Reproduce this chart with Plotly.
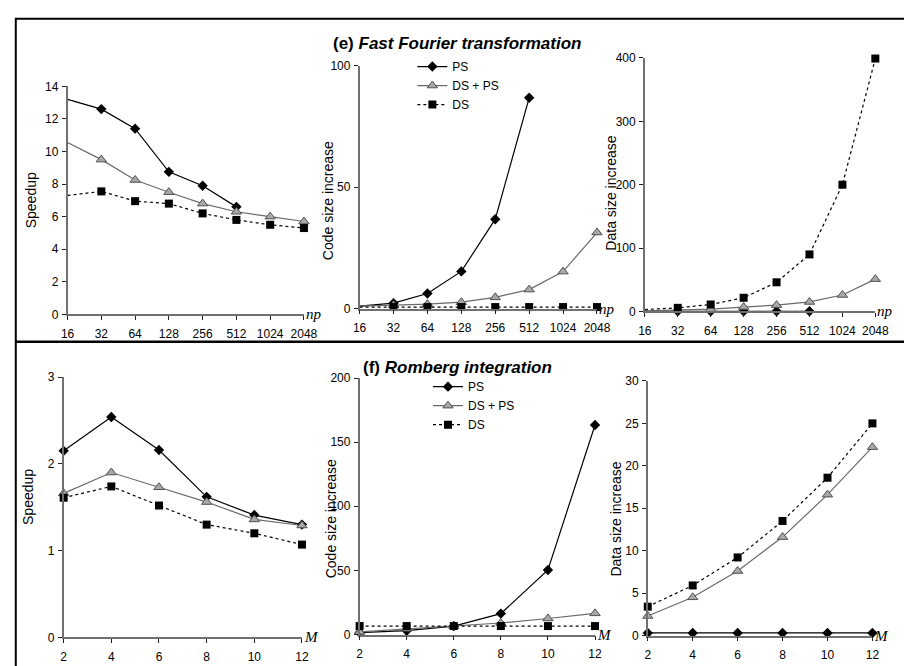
import math
import plotly.graph_objects as go

# ---------------- data ----------------
np_vals = [16, 32, 64, 128, 256, 512, 1024, 2048]
np_labels = ["16", "32", "64", "128", "256", "512", "1024", "2048"]
m_vals = [2, 4, 6, 8, 10, 12]
m_labels = ["2", "4", "6", "8", "10", "12"]

fft_speed_ps = [13.2, 12.6, 11.4, 8.75, 7.9, 6.6]
fft_speed_dsps = [10.55, 9.5, 8.25, 7.5, 6.8, 6.3, 6.0, 5.7]
fft_speed_ds = [7.3, 7.55, 6.95, 6.8, 6.2, 5.8, 5.5, 5.3]

fft_code_ps = [1.0, 2.2, 6.2, 15.3, 36.8, 86.8]
fft_code_dsps = [1.0, 1.4, 1.8, 2.6, 4.6, 7.8, 15.2, 31.3]
fft_code_ds = [0.6, 0.6, 0.6, 0.6, 0.6, 0.6, 0.6, 0.6]

fft_data_ps = [0.3, 0.3, 0.3, 0.3, 0.3, 0.3]
fft_data_dsps = [1.0, 2.0, 3.6, 7.0, 10.0, 15.0, 26.0, 51.0]
fft_data_ds = [3.0, 5.7, 11.0, 21.6, 46.0, 90.0, 200.0, 399.0]

rom_speed_ps = [2.15, 2.54, 2.16, 1.62, 1.41, 1.30]
rom_speed_dsps = [1.66, 1.90, 1.73, 1.56, 1.36, 1.29]
rom_speed_ds = [1.61, 1.74, 1.52, 1.30, 1.20, 1.07]

rom_code_ps = [1.5, 3.0, 6.6, 16.3, 50.3, 163.4]
rom_code_dsps = [2.0, 4.5, 6.6, 9.0, 12.5, 16.5]
rom_code_ds = [6.6, 6.6, 6.6, 6.6, 6.6, 6.6]

rom_data_ps = [0.3, 0.3, 0.3, 0.3, 0.3, 0.3]
rom_data_dsps = [2.3, 4.5, 7.6, 11.6, 16.6, 22.2]
rom_data_ds = [3.4, 5.9, 9.2, 13.5, 18.6, 25.0]

series_names = ["PS", "DS + PS", "DS"]

W, H = 904, 666
FONT = "Liberation Sans, Arial, Helvetica, sans-serif"
SERIF = "Liberation Serif, Times New Roman, serif"


def px(x):
    return x / W


def py(y):
    return 1 - y / H


# panel layout (pixel geometry) ---------------------------------
panels = [
    dict(x=(62, 304), y=(81, 314), xs=np_vals, xl=np_labels, log=True, yr=(0, 14),
         yt=[0, 2, 4, 6, 8, 10, 12, 14], data=[fft_speed_ps, fft_speed_dsps, fft_speed_ds],
         unit="np", ytitle="Speedup", yt_pos=(24, 197), legend=None),
    dict(x=(361, 604), y=(60, 308), xs=np_vals, xl=np_labels, log=True, yr=(0, 100),
         yt=[0, 50, 100], data=[fft_code_ps, fft_code_dsps, fft_code_ds],
         unit="np", ytitle="Code size increase", yt_pos=(328, 198), legend="legend"),
    dict(x=(653, 889), y=(52, 311), xs=np_vals, xl=np_labels, log=True, yr=(0, 400),
         yt=[0, 100, 200, 300, 400], data=[fft_data_ps, fft_data_dsps, fft_data_ds],
         unit="np", ytitle="Data size increase", yt_pos=(618, 190), legend=None),
    dict(x=(58, 302), y=(378, 644), xs=m_vals, xl=m_labels, log=False, yr=(0, 3),
         yt=[0, 1, 2, 3], data=[rom_speed_ps, rom_speed_dsps, rom_speed_ds],
         unit="M", ytitle="Speedup", yt_pos=(22, 500), legend=None),
    dict(x=(361, 602), y=(379, 641), xs=m_vals, xl=m_labels, log=False, yr=(0, 200),
         yt=[0, 50, 100, 150, 200], data=[rom_code_ps, rom_code_dsps, rom_code_ds],
         unit="M", ytitle="Code size increase", yt_pos=(332, 523), legend="legend2"),
    dict(x=(656, 886), y=(382, 642), xs=m_vals, xl=m_labels, log=False, yr=(0, 30),
         yt=[0, 5, 10, 15, 20, 25, 30], data=[rom_data_ps, rom_data_dsps, rom_data_ds],
         unit="M", ytitle="Data size increase", yt_pos=(623, 523), legend=None),
]

styles = [
    dict(line=dict(color="#000000", width=1.2, dash="solid"),
         marker=dict(symbol="diamond", size=8, color="#000000", line=dict(width=0))),
    dict(line=dict(color="#6a6a6a", width=1.2, dash="solid"),
         marker=dict(symbol="triangle-up", size=9, color="#a8a8a8",
                     line=dict(width=1, color="#505050"))),
    dict(line=dict(color="#000000", width=1.2, dash="dot"),
         marker=dict(symbol="square", size=8, color="#000000", line=dict(width=0))),
]

fig = go.Figure()
layout = dict(
    width=W, height=H,
    margin=dict(l=0, r=0, t=0, b=0),
    paper_bgcolor="white", plot_bgcolor="white",
    font=dict(family=FONT, size=12, color="#000000"),
    showlegend=True,
)
annotations = []

AXIS_LINE = "#707070"
TICK_COL = "#202020"

for i, p in enumerate(panels):
    k = i + 1
    ko = i + 7
    xname = "xaxis" if k == 1 else f"xaxis{k}"
    yname = "yaxis" if k == 1 else f"yaxis{k}"
    xref = "x" if k == 1 else f"x{k}"
    yref = "y" if k == 1 else f"y{k}"
    xdom = [px(p["x"][0]), px(p["x"][1])]
    ydom = [py(p["y"][1]), py(p["y"][0])]
    if p["log"]:
        xr = [math.log10(p["xs"][0]), math.log10(p["xs"][-1])]
        xtype = "log"
    else:
        xr = [p["xs"][0], p["xs"][-1]]
        xtype = "linear"
    common_x = dict(domain=xdom, type=xtype, range=xr, tickmode="array",
                    tickvals=p["xs"], showgrid=False, zeroline=False)
    common_y = dict(domain=ydom, range=list(p["yr"]), tickmode="array",
                    tickvals=p["yt"], showgrid=False, zeroline=False)
    layout[xname] = dict(**common_x, anchor=yref, ticktext=p["xl"], ticks="outside",
                         ticklen=4, tickwidth=1, tickcolor=TICK_COL,
                         showline=True, linecolor=AXIS_LINE, linewidth=1.5,
                         ticklabelstandoff=3,
                         tickfont=dict(family=FONT, size=12, color="#000"))
    layout[yname] = dict(**common_y, anchor=xref, ticks="outside",
                         ticklen=4, tickwidth=1, tickcolor=TICK_COL,
                         showline=True, linecolor=AXIS_LINE, linewidth=1.5,
                         ticklabelstandoff=1,
                         tickfont=dict(family=FONT, size=12, color="#000"))
    # overlay axes giving the inward half of the crossing tick marks
    layout[f"xaxis{ko}"] = dict(**common_x, anchor=f"y{ko}", overlaying=xref,
                                ticks="inside", ticklen=4, tickwidth=1,
                                tickcolor=TICK_COL, showticklabels=False,
                                showline=False)
    layout[f"yaxis{ko}"] = dict(**common_y, anchor=f"x{ko}", overlaying=yref,
                                ticks="inside", ticklen=4, tickwidth=1,
                                tickcolor=TICK_COL, showticklabels=False,
                                showline=False)
    for s, (name, vals) in enumerate(zip(series_names, p["data"])):
        fig.add_trace(go.Scatter(
            x=p["xs"][:len(vals)], y=vals, name=name, mode="lines+markers",
            xaxis=xref, yaxis=yref, cliponaxis=False,
            line=styles[s]["line"], marker=styles[s]["marker"],
            showlegend=p["legend"] is not None,
            legend=p["legend"] if p["legend"] else "legend",
        ))
    # unit label at the end of the x axis
    annotations.append(dict(
        text=f"<i>{p['unit']}</i>", xref=f"{xref} domain", yref=f"{yref} domain",
        x=1, y=0, xanchor="left", yanchor="middle", xshift=0, showarrow=False,
        font=dict(family=SERIF, size=15, color="#000")))
    # y axis title
    annotations.append(dict(
        text=p["ytitle"], xref="paper", yref="paper",
        x=px(p["yt_pos"][0]), y=py(p["yt_pos"][1]), xanchor="center",
        yanchor="middle", textangle=-90, showarrow=False,
        font=dict(family=FONT, size=14, color="#000")))

# panel titles
annotations.append(dict(text="<b>(e) <i>Fast Fourier transformation</i></b>",
                        xref="paper", yref="paper", x=px(461), y=py(37),
                        xanchor="center", yanchor="middle", showarrow=False,
                        font=dict(family=FONT, size=17, color="#000")))
annotations.append(dict(text="<b>(f) <i>Romberg integration</i></b>",
                        xref="paper", yref="paper", x=px(461), y=py(368),
                        xanchor="center", yanchor="middle", showarrow=False,
                        font=dict(family=FONT, size=17, color="#000")))

legend_common = dict(bgcolor="rgba(0,0,0,0)", borderwidth=0, itemwidth=30,
                     tracegroupgap=0, xanchor="left", yanchor="top",
                     font=dict(family=FONT, size=12, color="#000"))
layout["legend"] = dict(**legend_common, x=px(415), y=py(46))
layout["legend2"] = dict(**legend_common, x=px(431), y=py(373))
layout["annotations"] = annotations

# frame and divider
layout["shapes"] = [
    dict(type="rect", xref="paper", yref="paper", x0=px(9), x1=1.02, y0=-0.02,
         y1=py(12), line=dict(color="#000", width=2), fillcolor="rgba(0,0,0,0)"),
    dict(type="line", xref="paper", yref="paper", x0=px(9), x1=1.02, y0=py(342),
         y1=py(342), line=dict(color="#000", width=2.5)),
]

fig.update_layout(**layout)
fig.write_html(
    "out.html",
    config={"displayModeBar": False},
    post_script="document.body.style.margin='0';document.body.style.overflow='hidden';",
)
